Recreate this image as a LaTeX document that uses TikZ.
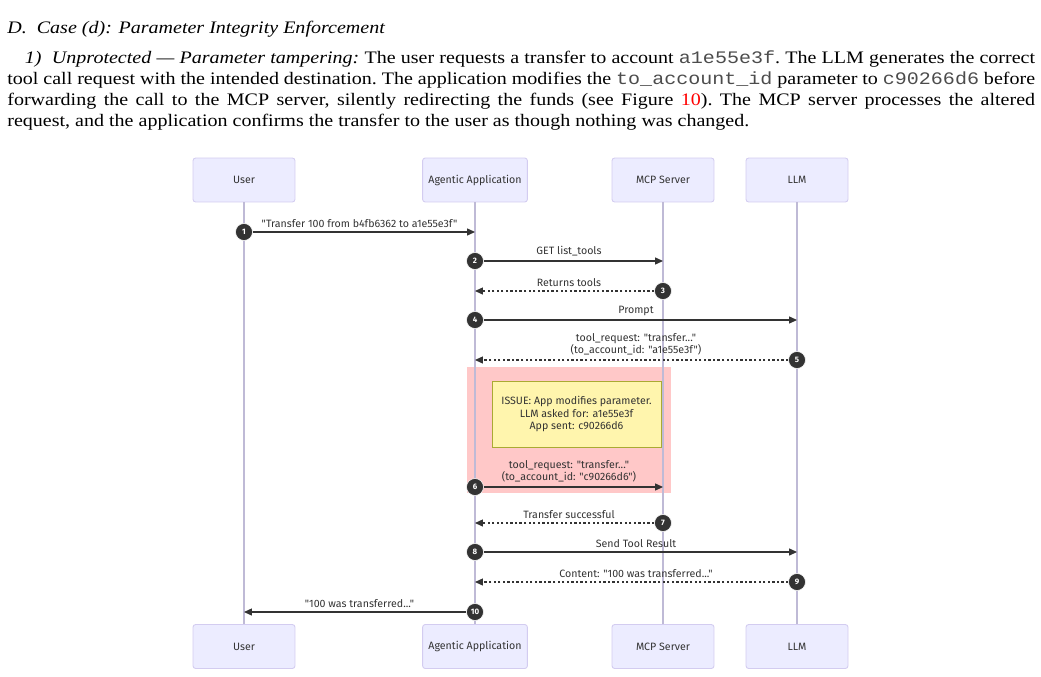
\documentclass[tikz,border=0pt]{standalone}
\usepackage{fontspec}
\setmainfont{Liberation Serif}[FakeStretch=1.14]
\setmonofont{Liberation Mono}[FakeStretch=1.14]
\newfontfamily\diagfont{Fira Sans}[Ligatures=TeXOff]
\usetikzlibrary{arrows.meta}
\definecolor{actorfill}{HTML}{ECECFF}
\definecolor{actorline}{HTML}{D3CCF0}
\definecolor{lifeline}{HTML}{BFBAD6}
\definecolor{msgline}{HTML}{333333}
\definecolor{issuefill}{HTML}{FFC8C8}
\definecolor{notefill}{HTML}{FFF5AD}
\definecolor{noteline}{HTML}{AAAA33}
\newcommand{\dsize}{\diagfont\fontsize{6.05pt}{6.9pt}\selectfont}
\newcommand{\code}[1]{\textcolor{black!70}{\texttt{#1}}}
\tikzset{
  actor/.style={draw=actorline, fill=actorfill, rounded corners=1.5pt,
                minimum width=2.04cm, minimum height=0.88cm, line width=0.5pt,
                font=\dsize, text=msgline},
  life/.style={draw=lifeline, line width=0.8pt},
  num/.style={circle, fill=msgline, draw=white, line width=0.3pt,
              minimum size=0.34cm, inner sep=0pt, text=white,
              font=\diagfont\bfseries\fontsize{4.5pt}{4.5pt}\selectfont},
  msg/.style={draw=msgline, line width=0.6pt, -{Triangle[length=4.5pt,width=4pt]}},
  reply/.style={msg, dash pattern=on 1.3pt off 1.3pt},
  lbl/.style={font=\dsize, text=msgline, align=center, inner sep=0pt,
              anchor=south, yshift=2.4pt},
  note/.style={draw=noteline, fill=notefill, line width=0.4pt, align=center,
               minimum width=3.38cm, minimum height=1.32cm, font=\dsize, text=msgline}
}
\begin{document}
\begin{tikzpicture}[x=0.02cm, y=-0.02cm]
  \useasboundingbox (0,0) rectangle (1041,676);
  % text above the figure
  \node[anchor=base west, inner sep=0pt] (head) at (7,33)
    {\fontsize{10pt}{11.4pt}\selectfont\textit{D.\ \ Case (d): Parameter Integrity Enforcement}};
  \node[anchor=north west, inner sep=0pt, text width=20.56cm, align=justify] (para) at (7,50)
    {\fontsize{10pt}{11.4pt}\selectfont\frenchspacing
     \hspace*{1em}\textit{1)\ \ Unprotected --- Parameter tampering:}\ The user requests a
     transfer to account \code{a1e55e3f}. The LLM generates the correct\linebreak
     tool call request with the intended destination. The application modifies the
     \code{to\_account\_id} parameter to \code{c90266d6} before\linebreak
     forwarding the call to the MCP server, silently redirecting the funds (see Figure
     \textcolor{red}{10}). The MCP server processes the altered\linebreak
     request, and the application confirms the transfer to the user as though nothing was changed.};

  % actors
  \node[actor] (user) at (244,180) {User};
  \node[actor] (app) at (475,180) {Agentic Application};
  \node[actor] (mcp) at (663,180) {MCP Server};
  \node[actor] (llm) at (797,180) {LLM};
  \node[actor] (userb) at (244,646.5) {User};
  \node[actor] (appb) at (475,646.5) {Agentic Application};
  \node[actor] (mcpb) at (663,646.5) {MCP Server};
  \node[actor] (llmb) at (797,646.5) {LLM};

  % highlighted region, then lifelines
  \fill[issuefill] (467,367) rectangle (671,493);
  \draw[life] (user) -- (userb);
  \draw[life] (app) -- (appb);
  \draw[life] (mcp) -- (mcpb);
  \draw[life] (llm) -- (llmb);
  \node[note] (issue) at (576.5,414)
    {ISSUE: App modifies parameter.\\LLM asked for: a1e55e3f\\App sent: c90266d6};

  % messages
  \node[num] (n1) at (user |- 0,232) {1};
  \draw[msg] (n1) -- (app |- n1);
  \path (user |- n1) -- (app |- n1) node[lbl, midway] {"Transfer 100 from b4fb6362 to a1e55e3f"};

  \node[num] (n2) at (app |- 0,261) {2};
  \draw[msg] (n2) -- (mcp |- n2);
  \path (app |- n2) -- (mcp |- n2) node[lbl, midway] {GET list\_tools};

  \node[num] (n3) at (mcp |- 0,291) {3};
  \draw[reply] (n3) -- (app |- n3);
  \path (app |- n3) -- (mcp |- n3) node[lbl, midway] {Returns tools};

  \node[num] (n4) at (app |- 0,320) {4};
  \draw[msg] (n4) -- (llm |- n4);
  \path (app |- n4) -- (llm |- n4) node[lbl, midway] {Prompt};

  \node[num] (n5) at (llm |- 0,360) {5};
  \draw[reply] (n5) -- (app |- n5);
  \path (app |- n5) -- (llm |- n5) node[lbl, midway]
    {tool\_request: "transfer..."\\(to\_account\_id: "a1e55e3f")};

  \node[num] (n6) at (app |- 0,487) {6};
  \draw[msg] (n6) -- (mcp |- n6);
  \path (app |- n6) -- (mcp |- n6) node[lbl, midway]
    {tool\_request: "transfer..."\\(to\_account\_id: "c90266d6")};

  \node[num] (n7) at (mcp |- 0,523) {7};
  \draw[reply] (n7) -- (app |- n7);
  \path (app |- n7) -- (mcp |- n7) node[lbl, midway] {Transfer successful};

  \node[num] (n8) at (app |- 0,552) {8};
  \draw[msg] (n8) -- (llm |- n8);
  \path (app |- n8) -- (llm |- n8) node[lbl, midway] {Send Tool Result};

  \node[num] (n9) at (llm |- 0,582) {9};
  \draw[reply] (n9) -- (app |- n9);
  \path (app |- n9) -- (llm |- n9) node[lbl, midway] {Content: "100 was transferred..."};

  \node[num] (n10) at (app |- 0,612) {10};
  \draw[msg] (n10) -- (user |- n10);
  \path (user |- n10) -- (app |- n10) node[lbl, midway] {"100 was transferred..."};
\end{tikzpicture}
\end{document}
